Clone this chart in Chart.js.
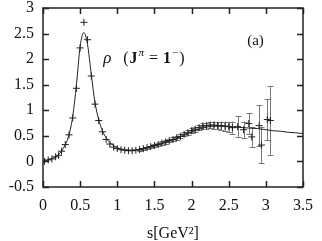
<!DOCTYPE html>
<html>
<head>
<meta charset="utf-8">
<script src="https://cdn.jsdelivr.net/npm/chart.js@4/dist/chart.umd.min.js"></script>
<style>
  html, body { margin: 0; padding: 0; background: #fff; }
  #wrap { width: 322px; height: 241px; }
</style>
</head>
<body>
<div id="wrap"><canvas id="c" width="322" height="241"></canvas></div>
<script>
// measured points (s in GeV^2) with errors
var pointS = [0.02, 0.07, 0.12, 0.17, 0.21, 0.25, 0.30, 0.35, 0.40, 0.45, 0.50, 0.55, 0.60, 0.65, 0.70, 0.75, 0.80, 0.85, 0.90, 0.95,
  1.00, 1.05, 1.10, 1.15, 1.20, 1.25, 1.30, 1.35, 1.40, 1.45, 1.50, 1.55, 1.60, 1.65, 1.70, 1.75, 1.80, 1.85, 1.90, 1.95,
  2.00, 2.05, 2.10, 2.15, 2.20, 2.25, 2.30, 2.35, 2.40, 2.45, 2.50, 2.55, 2.62, 2.70, 2.77, 2.81, 2.91, 2.94, 3.02, 3.06];
var pointV = [0.00, 0.03, 0.05, 0.09, 0.12, 0.20, 0.33, 0.52, 0.85, 1.43, 2.22, 2.72, 2.38, 1.67, 1.12, 0.80, 0.58, 0.43, 0.34, 0.28,
  0.25, 0.23, 0.22, 0.21, 0.21, 0.22, 0.23, 0.25, 0.27, 0.29, 0.31, 0.33, 0.36, 0.38, 0.41, 0.43, 0.46, 0.49, 0.53, 0.56,
  0.60, 0.63, 0.66, 0.69, 0.70, 0.71, 0.71, 0.70, 0.70, 0.69, 0.68, 0.66, 0.68, 0.62, 0.74, 0.48, 0.70, 0.32, 0.82, 0.80];
var pointErr = [0.01, 0.01, 0.01, 0.01, 0.01, 0.01, 0.01, 0.01, 0.01, 0.01, 0.01, 0.01, 0.01, 0.01, 0.01, 0.01, 0.01, 0.01, 0.01, 0.01,
  0.01, 0.01, 0.01, 0.01, 0.01, 0.01, 0.02, 0.02, 0.02, 0.02, 0.03, 0.03, 0.03, 0.03, 0.03, 0.04, 0.04, 0.04, 0.04, 0.05,
  0.05, 0.05, 0.05, 0.06, 0.06, 0.06, 0.07, 0.07, 0.08, 0.09, 0.10, 0.12, 0.21, 0.16, 0.20, 0.20, 0.40, 0.36, 0.40, 0.67];

// fitted curve
var curveS = [0.0, 0.05, 0.1, 0.15, 0.2, 0.25, 0.3, 0.35, 0.4, 0.45, 0.5, 0.55, 0.6, 0.65, 0.7, 0.75, 0.8, 0.85, 0.9, 1.0,
  1.1, 1.2, 1.3, 1.4, 1.5, 1.6, 1.7, 1.8, 1.9, 2.0, 2.1, 2.2, 2.3, 2.4, 2.5, 2.6, 2.7, 2.8, 2.9, 3.0, 3.1, 3.2, 3.3, 3.4, 3.5];
var curveV = [0.0, 0.02, 0.04, 0.07, 0.12, 0.20, 0.33, 0.52, 0.88, 1.50, 2.25, 2.52, 2.28, 1.70, 1.15, 0.82, 0.60, 0.46, 0.37, 0.27,
  0.23, 0.22, 0.24, 0.27, 0.31, 0.35, 0.40, 0.45, 0.52, 0.58, 0.63, 0.67, 0.69, 0.69, 0.68, 0.67, 0.66, 0.65, 0.64, 0.62, 0.60, 0.59, 0.57, 0.56, 0.545];

var xTicks = [0, 0.5, 1, 1.5, 2, 2.5, 3, 3.5];
var yTicks = [-0.5, 0, 0.5, 1, 1.5, 2, 2.5, 3];

var serif = "'Liberation Serif', 'DejaVu Serif', serif";

var points = pointS.map(function (s, i) { return { x: s, y: pointV[i] }; });
var curve = curveS.map(function (s, i) { return { x: s, y: curveV[i] }; });

// error bars, inside ticks, frame and labels
var decor = {
  id: 'decor',
  beforeDatasetsDraw: function (chart) {
    var ctx = chart.ctx, xs = chart.scales.x, ys = chart.scales.y;
    ctx.save();
    ctx.strokeStyle = '#777';
    ctx.lineWidth = 1;
    for (var i = 0; i < pointS.length; i++) {
      var px = Math.round(xs.getPixelForValue(pointS[i])) + 0.5;
      var top = ys.getPixelForValue(pointV[i] + pointErr[i]);
      var bot = ys.getPixelForValue(pointV[i] - pointErr[i]);
      if (bot - top < 2) continue;
      ctx.beginPath();
      ctx.moveTo(px, top); ctx.lineTo(px, bot);
      ctx.moveTo(px - 3, Math.round(top) + 0.5); ctx.lineTo(px + 3, Math.round(top) + 0.5);
      ctx.moveTo(px - 3, Math.round(bot) + 0.5); ctx.lineTo(px + 3, Math.round(bot) + 0.5);
      ctx.stroke();
    }
    ctx.restore();
  },
  afterDraw: function (chart) {
    var ctx = chart.ctx, a = chart.chartArea, xs = chart.scales.x, ys = chart.scales.y;
    ctx.save();
    ctx.strokeStyle = '#222';
    ctx.lineWidth = 1.5;
    ctx.strokeRect(a.left, a.top, a.right - a.left, a.bottom - a.top);
    ctx.beginPath();
    xTicks.forEach(function (t) {
      var px = Math.round(xs.getPixelForValue(t)) + 0.5;
      ctx.moveTo(px, a.bottom); ctx.lineTo(px, a.bottom - 6);
      ctx.moveTo(px, a.top); ctx.lineTo(px, a.top + 6);
    });
    yTicks.forEach(function (t) {
      var py = Math.round(ys.getPixelForValue(t)) + 0.5;
      ctx.moveTo(a.left, py); ctx.lineTo(a.left + 6, py);
      ctx.moveTo(a.right, py); ctx.lineTo(a.right - 6, py);
    });
    ctx.stroke();

    // labels
    ctx.fillStyle = '#111';
    ctx.textBaseline = 'alphabetic';
    var x = xs.getPixelForValue(0.81), y = ys.getPixelForValue(1.93);
    ctx.font = 'italic 17px ' + serif;
    ctx.fillText('\u03c1', x, y);
    x += 20;
    ctx.font = '16px ' + serif;
    ctx.fillText('(', x, y); x += ctx.measureText('(').width + 1;
    ctx.font = 'bold 16px ' + serif;
    ctx.fillText('J', x, y); x += ctx.measureText('J').width + 1;
    ctx.font = 'italic 11px ' + serif;
    ctx.fillText('\u03c0', x, y - 7); x += ctx.measureText('\u03c0').width + 5;
    ctx.font = '16px ' + serif;
    ctx.fillText('=', x, y); x += ctx.measureText('=').width + 5;
    ctx.font = 'bold 16px ' + serif;
    ctx.fillText('1', x, y); x += ctx.measureText('1').width + 1;
    ctx.font = '11px ' + serif;
    ctx.fillText('\u2212', x, y - 7); x += ctx.measureText('\u2212').width + 1;
    ctx.font = '16px ' + serif;
    ctx.fillText(')', x, y);

    ctx.font = '15px ' + serif;
    ctx.textAlign = 'center';
    ctx.fillText('(a)', xs.getPixelForValue(2.86), ys.getPixelForValue(2.27));
    ctx.restore();
  }
};

function plainLabel(v) { return String(v); }

new Chart(document.getElementById('c'), {
  type: 'scatter',
  data: {
    datasets: [{
      type: 'line',
      data: curve,
      borderColor: '#222',
      borderWidth: 1,
      pointRadius: 0,
      tension: 0.35,
      cubicInterpolationMode: 'monotone',
      fill: false
    }, {
      data: points,
      pointStyle: 'cross',
      pointRadius: 3.5,
      borderColor: '#222',
      borderWidth: 1,
      backgroundColor: '#222'
    }]
  },
  plugins: [decor],
  options: {
    responsive: false,
    animation: false,
    layout: { padding: { top: 0, right: 19, left: 0, bottom: 0 } },
    plugins: { legend: { display: false }, tooltip: { enabled: false } },
    scales: {
      x: {
        type: 'linear', min: 0, max: 3.5,
        afterBuildTicks: function (s) { s.ticks = xTicks.map(function (v) { return { value: v }; }); },
        grid: { display: false, drawTicks: false },
        border: { display: false },
        ticks: { color: '#111', padding: 9, font: { family: serif, size: 16 }, maxRotation: 0, callback: plainLabel },
        title: { display: true, text: 's[GeV\u00b2]', color: '#111', font: { family: serif, size: 16 }, padding: { top: 0, bottom: -2 } },
        afterFit: function (s) { s.height = 54; }
      },
      y: {
        type: 'linear', min: -0.5, max: 3,
        afterBuildTicks: function (s) { s.ticks = yTicks.map(function (v) { return { value: v }; }); },
        grid: { display: false, drawTicks: false },
        border: { display: false },
        ticks: { color: '#111', padding: 9, font: { family: serif, size: 16 }, callback: plainLabel },
        afterFit: function (s) { s.width = 43; s.paddingTop = 8; s.paddingBottom = 0; }
      }
    }
  }
});
</script>
</body>
</html>
